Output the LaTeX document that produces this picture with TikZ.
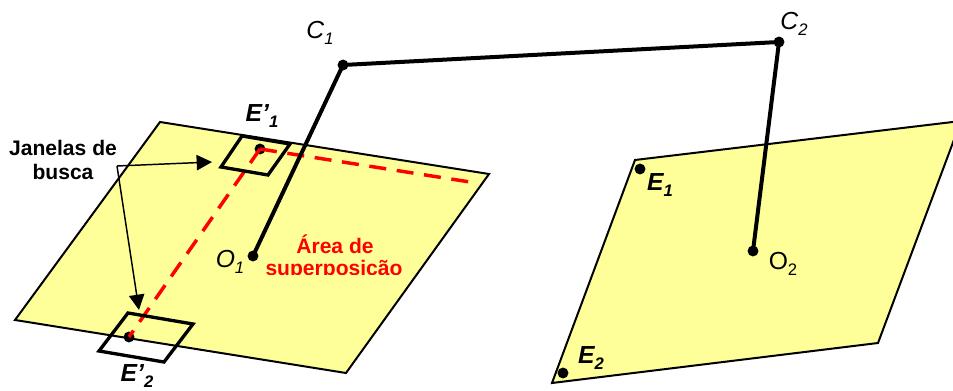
\documentclass[tikz,border=0pt]{standalone}
\usepackage{fontspec}
\setmainfont{Liberation Sans}
\usetikzlibrary{arrows.meta}
\definecolor{planeyellow}{RGB}{255,255,153}
\definecolor{overlapred}{RGB}{255,0,0}
\tikzset{
  plane/.style={draw=black,line width=1.5pt,fill=planeyellow,line join=miter},
  searchwin/.style={draw=black,line width=2.5pt,line join=miter},
  baseline/.style={draw=black,line width=3pt},
  epipolar/.style={draw=overlapred,line width=2.6pt,dash pattern=on 12.75pt off 8pt},
  pointer/.style={draw=black,line width=1.1pt,-{Triangle[length=11.5pt,width=11.5pt]}},
  dot/.style={circle,fill=black,inner sep=0pt,minimum size=8.2pt},
  lab/.style={font=\fontsize{18.5}{20}\selectfont\itshape,inner sep=0pt},
  rlab/.style={font=\fontsize{18.5}{20}\selectfont,inner sep=0pt},
  blab/.style={font=\fontsize{18.5}{20}\selectfont\bfseries\itshape,inner sep=0pt},
  callout/.style={font=\fontsize{15.8}{18}\selectfont\bfseries,inner sep=0pt},
  overlap/.style={font=\fontsize{15.8}{18}\selectfont\bfseries,text=overlapred,inner sep=0pt}
}
\newcommand{\lsub}[1]{\raisebox{-0.25em}{\fontsize{12.5}{13}\selectfont #1}}
\begin{document}
\begin{tikzpicture}[x=0.75pt,y=-0.75pt]
\useasboundingbox (0,0) rectangle (953,391);
\clip (0,0) rectangle (953,391);
% planes
\path[plane] (160,122) -- (489,174) -- (346,373) -- (15,320) -- cycle;
\path[plane] (635,160) -- (961,121) -- (878,343) -- (552,383) -- cycle;
% points
\node[dot] (Ea) at (260,149) {};
\node[dot] (Eb) at (129,337) {};
\node[dot] (O1) at (253,256) {};
\node[dot] (O2) at (753,251) {};
\node[dot] (C1) at (343,65) {};
\node[dot] (C2) at (779,42) {};
\node[dot] (E1) at (640,169) {};
\node[dot] (E2) at (563,373) {};
\coordinate (epiEnd) at (470,182);
\coordinate (pivot) at (117,166);
\coordinate (tipA) at (212,162);
\coordinate (tipB) at (139,310);
% epipolar lines
\draw[epipolar] (Ea.center) -- (epiEnd);
\draw[epipolar] (Ea.center) -- (Eb.center);
% search windows
\draw[searchwin] (242,136) -- (290,144) -- (268,175) -- (221,167) -- cycle;
\draw[searchwin] (128,313) -- (193,324) -- (164,362) -- (99,351) -- cycle;
% baseline
\draw[baseline] (O1.center) -- (C1.center) -- (C2.center) -- (O2.center);
% callout arrows
\draw[pointer] (pivot) -- (tipA);
\draw[pointer] (pivot) -- (tipB);
% labels
\node[callout] (janA) at (63,148) {Janelas de};
\node[callout] (janB) at (63,172) {busca};
\node[lab] (lC1) at (320,33) {C\lsub{1}};
\node[lab] (lC2) at (794,24) {C\lsub{2}};
\node[lab] (lO1) at (230,262) {O\lsub{1}};
\node[rlab] (lO2) at (783,264) {O\lsub{2}};
\node[blab] (lEa) at (262,116) {E’\lsub{1}};
\node[blab] (lEb) at (137,376) {E’\lsub{2}};
\node[blab] (lE1) at (660,185) {E\lsub{1}};
\node[blab] (lE2) at (591,358) {E\lsub{2}};
\node[overlap] (ovA) at (335,244) {Área de};
\begin{scope}
\clip (250,250) rectangle (420,275);
\node[overlap] (ovB) at (334,270) {superposição};
\end{scope}
\end{tikzpicture}
\end{document}
